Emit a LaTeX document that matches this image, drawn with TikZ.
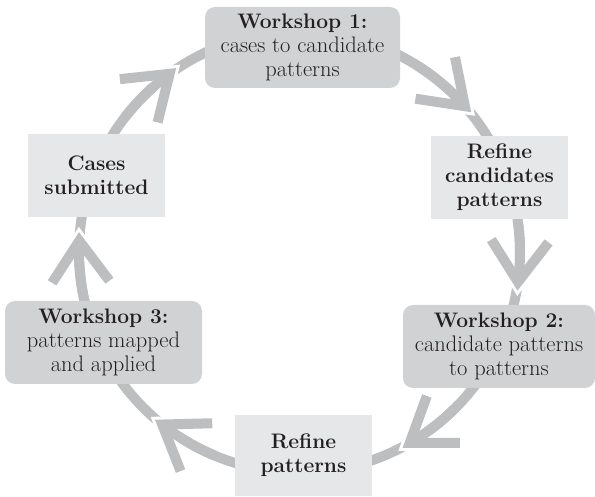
\documentclass[tikz,border=0pt]{standalone}
\usetikzlibrary{calc}

\definecolor{ringgray}{RGB}{188,190,192}
\definecolor{darkbox}{RGB}{209,210,212}
\definecolor{lightbox}{RGB}{230,231,232}
\definecolor{ink}{RGB}{35,31,32}

% heading line inside a workshop box
\newcommand\stagehead[1]{{\fontsize{21}{24}\selectfont\bfseries #1}}

\tikzset{
  ring/.style={draw=ringgray, line width=10pt},
  chevborder/.style={draw=white, line width=16pt, line join=miter, miter limit=10},
  chev/.style={draw=ringgray, line width=10pt, line join=miter, miter limit=10},
  boxtext/.style={text=ink, align=center, inner sep=0pt,
    font=\fontsize{22.5}{24}\selectfont},
  workshop/.style={boxtext, fill=darkbox, rounded corners=10pt},
  refine/.style={boxtext, fill=lightbox, font=\fontsize{21}{24}\selectfont\bfseries},
}

\begin{document}
\begin{tikzpicture}[x=1pt, y=1pt]
  \useasboundingbox (0,0) rectangle (595,496);

  % the cycle ring
  \coordinate (ctr) at (299.5,244);
  \draw[ring] (ctr) circle[radius=220.5];

  % open chevron heads, each with a white rim that notches the ring ahead of it
  \foreach \a in {126.1,41.4,-7.8,-60,-128.5,177.1} {
    \coordinate (tip) at ($(ctr)+(\a:220.5)$);
    \coordinate (legA) at ($(tip)+(\a+130:50)$);
    \coordinate (legB) at ($(tip)+(\a+60:50)$);
    \draw[chevborder] (legA) -- (tip) -- (legB);
    \draw[ring] ($(ctr)+(\a+16:220.5)$) arc[start angle=\a+16, end angle=\a, radius=220.5];
    \draw[chev] (legA) -- (tip) -- (legB);
  }

  % stage boxes
  \node[workshop, minimum width=195pt, minimum height=81pt] (w1) at (302.5,448.5)
    {\stagehead{Workshop 1:}\\cases to candidate\\patterns};
  \node[refine, minimum width=137pt, minimum height=83pt] (rc) at (499.5,318.5)
    {Refine\\candidates\\patterns};
  \node[workshop, minimum width=192pt, minimum height=83pt] (w2) at (499,149.5)
    {\stagehead{Workshop 2:}\\candidate patterns\\to patterns};
  \node[refine, minimum width=137pt, minimum height=81pt] (rp) at (303.5,40.5)
    {Refine\\patterns};
  \node[workshop, minimum width=197pt, minimum height=83pt] (w3) at (103.5,153.5)
    {\stagehead{Workshop 3:}\\patterns mapped\\and applied};
  \node[refine, minimum width=137pt, minimum height=83pt] (cs) at (96.5,320.5)
    {Cases\\submitted};
\end{tikzpicture}
\end{document}
